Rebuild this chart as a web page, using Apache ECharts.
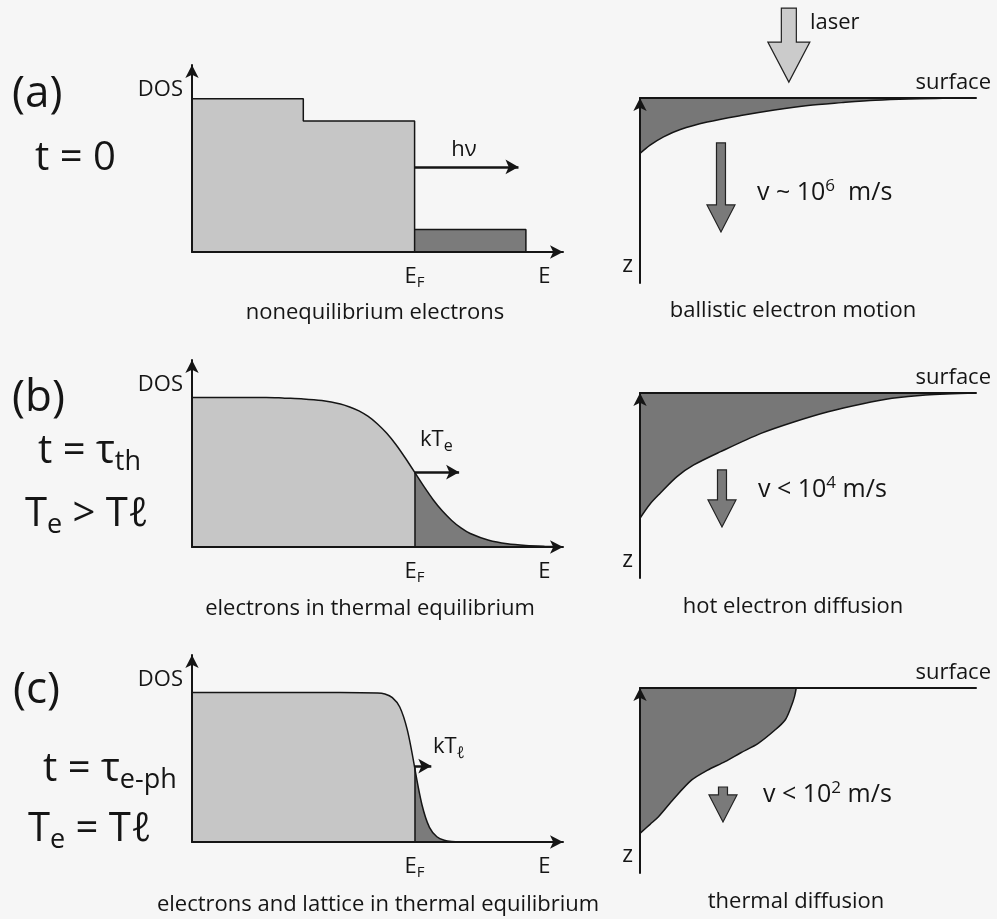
<!DOCTYPE html>
<html><head><meta charset="utf-8">
<script src="https://cdn.jsdelivr.net/npm/echarts@6/dist/echarts.min.js"></script>
<style>html,body{margin:0;padding:0;background:#f6f6f6}#c{width:997px;height:919px}</style>
</head><body><div id="c"></div>
<script>
// ---------------- data ----------------
// x-axis labels of the DOS panels
const eLabelValues = [6, 9.5];
// (a) t = 0 : nonequilibrium electrons (E, DOS)
const aOccE   = [0, 3, 3, 6, 6];
const aOccDOS = [8.2, 8.2, 7.0, 7.0, 0];
const aExcE   = [6, 9, 9];
const aExcDOS = [1.2, 1.2, 0];
const aHvArrowE   = [6, 8.8];
const aHvArrowDOS = [4.55, 4.55];
// (b) t = tau_th : hot Fermi distribution
const bOccE   = [0, 1, 2, 2.5, 3, 3.5, 4, 4.25, 4.5, 4.75, 5, 5.25, 5.5, 5.75, 6];
const bOccDOS = [8, 8, 8, 7.96, 7.92, 7.83, 7.65, 7.49, 7.28, 6.98, 6.58, 6.08, 5.47, 4.76, 4.0];
const bExcE   = [6, 6.25, 6.5, 6.75, 7, 7.25, 7.5, 8, 8.5, 9, 9.5, 10];
const bExcDOS = [4.0, 3.24, 2.53, 1.92, 1.42, 1.02, 0.72, 0.36, 0.17, 0.08, 0.04, 0.02];
const bEdgeE   = [6, 6];
const bEdgeDOS = [0, 4.0];
const bKtArrowE   = [6, 7.2];
const bKtArrowDOS = [4.0, 4.0];
// (c) t = tau_e-ph : cold Fermi distribution
const cOccE   = [0, 2, 4, 5, 5.2, 5.4, 5.6, 5.8, 6];
const cOccDOS = [8, 8, 8, 7.97, 7.91, 7.72, 7.22, 6.02, 4.0];
const cExcE   = [6, 6.2, 6.4, 6.6, 6.8, 7.0, 7.4, 10];
const cExcDOS = [4.0, 1.98, 0.78, 0.28, 0.09, 0.03, 0, 0];
const cEdgeE   = [6, 6];
const cEdgeDOS = [0, 4.0];
const cKtArrowE   = [6, 6.45];
const cKtArrowDOS = [4.06, 4.06];
// right column: excitation depth profiles (lateral x, depth z)
const aDepthX = [0, 0.3, 0.7, 1.2, 2, 3, 4, 5, 6, 7, 8, 9, 10];
const aDepthZ = [3.0, 2.55, 2.1, 1.7, 1.3, 0.95, 0.65, 0.4, 0.25, 0.12, 0.05, 0.02, 0];
const bDepthX = [0, 0.3, 0.6, 1.1, 1.6, 2.4, 3.6, 4.6, 5.6, 6.6, 7.5, 8.5, 10];
const bDepthZ = [6.77, 6.0, 5.42, 4.52, 3.89, 3.17, 2.18, 1.55, 1.01, 0.59, 0.29, 0.11, 0];
const cDepthX = [0, 0.3, 0.55, 1.0, 1.54, 2.0, 2.53, 3.0, 3.52, 4.0, 4.32, 4.5, 4.6, 4.65];
const cDepthZ = [7.86, 7.37, 6.96, 6.0, 4.97, 4.45, 3.98, 3.5, 2.99, 2.3, 1.73, 1.0, 0.45, 0];
// block arrows: [x, z of tail, z of tip]
const laserArrow = [4.43, -4.86, -0.86];
const flowArrowA = [2.41, 2.43, 7.24];
const flowArrowB = [2.44, 4.16, 7.24];
const flowArrowC = [2.47, 5.35, 7.24];

// ---------------- styles ----------------
const LIGHT = '#c6c6c6', DARK = '#7b7b7b', INK = '#151515';
const FONT = '"Open Sans", "Noto Sans", "DejaVu Sans", sans-serif';
const zip = (xs, ys) => xs.map((x, i) => [x, ys[i]]);

const chart = echarts.init(document.getElementById('c'), null, {renderer: 'canvas'});

const leftTops = [65, 360, 655], rightTops = [98, 393, 688];
const grids = [];
leftTops.forEach(t => grids.push({left: 192, top: t, width: 371, height: 187, outerBoundsMode: 'none', containLabel: false}));
rightTops.forEach(t => grids.push({left: 640, top: t, width: 336, height: 185, outerBoundsMode: 'none', containLabel: false}));

const axisLineBase = {show: true, onZero: false, lineStyle: {color: INK, width: 2}};
const eRich = {
  m: {fontSize: 22, fontFamily: FONT, color: INK, lineHeight: 26, verticalAlign: 'middle'},
  s: {fontSize: 15, fontFamily: FONT, color: INK, lineHeight: 15, verticalAlign: 'bottom'}
};
const xAxes = [], yAxes = [];
for (let i = 0; i < 3; i++) {
  xAxes.push({gridIndex: i, type: 'value', min: 0, max: 10, z: 5,
    axisLine: Object.assign({}, axisLineBase, {symbol: ['none', 'arrow'], symbolSize: [10, 13]}),
    axisTick: {show: false}, splitLine: {show: false},
    axisLabel: {show: true, customValues: eLabelValues, margin: 12, hideOverlap: false,
      formatter: v => v === 6 ? '{m|E}{s|F}' : '{m|E}', rich: eRich}});
  yAxes.push({gridIndex: i, type: 'value', min: 0, max: 10, z: 5,
    axisLine: Object.assign({}, axisLineBase, {symbol: ['none', 'arrow'], symbolSize: [10, 13]}),
    axisTick: {show: false}, splitLine: {show: false}, axisLabel: {show: false},
    name: 'DOS', nameLocation: 'end', nameGap: -25,
    nameTextStyle: {fontSize: 22, fontFamily: FONT, color: INK, align: 'right', verticalAlign: 'middle', padding: [0, 9, 0, 0]}});
}
for (let i = 0; i < 3; i++) {
  xAxes.push({gridIndex: 3 + i, type: 'value', min: 0, max: 10, position: 'top', z: 5,
    axisLine: Object.assign({}, axisLineBase),
    axisTick: {show: false}, splitLine: {show: false}, axisLabel: {show: false},
    name: 'surface', nameLocation: 'end', nameGap: 15,
    nameTextStyle: {fontSize: 22, fontFamily: FONT, color: INK, align: 'right', verticalAlign: 'bottom', padding: [0, 0, 4, 0]}});
  yAxes.push({gridIndex: 3 + i, type: 'value', min: 0, max: 10, inverse: true, z: 5,
    axisLine: Object.assign({}, axisLineBase, {symbol: ['none', 'arrow'], symbolSize: [10, 13]}),
    axisTick: {show: false}, splitLine: {show: false}, axisLabel: {show: false},
    name: 'z', nameLocation: 'end', nameGap: -18,
    nameTextStyle: {fontSize: 23, fontFamily: FONT, color: INK, align: 'right', verticalAlign: 'middle', padding: [0, 7, 0, 0]}});
}

function area(idx, xs, ys, color, smooth) {
  return {type: 'line', xAxisIndex: idx, yAxisIndex: idx, data: zip(xs, ys), symbol: 'none', z: 2,
    smooth: smooth ? 0.3 : false,
    lineStyle: {color: INK, width: 1.5}, areaStyle: {color: color, opacity: 1}, silent: true};
}
function arrowLine(idx, xs, ys, edgeXs, edgeYs) {
  const data = [[{coord: [xs[0], ys[0]], symbol: 'none'}, {coord: [xs[1], ys[1]], symbol: 'arrow', symbolSize: [11, 13]}]];
  if (edgeXs) data.push([{coord: [edgeXs[0], edgeYs[0]], symbol: 'none', lineStyle: {width: 1.5}}, {coord: [edgeXs[1], edgeYs[1]], symbol: 'none'}]);
  return {type: 'line', xAxisIndex: idx, yAxisIndex: idx, data: [], symbol: 'none', z: 4,
    markLine: {silent: true, animation: false, symbol: ['none', 'arrow'], label: {show: false},
      lineStyle: {color: INK, width: 2.5, type: 'solid'}, emphasis: {disabled: true}, data: data}};
}
function blockArrows(idx, items, headLen, headHalf, shaftHalf, fill) {
  return {type: 'custom', xAxisIndex: idx, yAxisIndex: idx, clip: false, z: 4, silent: true,
    data: items, encode: {x: 0, y: [1, 2]},
    renderItem: (params, api) => {
      const tail = api.coord([api.value(0), api.value(1)]);
      const tip = api.coord([api.value(0), api.value(2)]);
      const x = tail[0], yt = tail[1], yb = tip[1], yh = yb - headLen;
      return {type: 'polygon', shape: {points: [[x - shaftHalf, yt], [x + shaftHalf, yt], [x + shaftHalf, yh],
        [x + headHalf, yh], [x, yb], [x - headHalf, yh], [x - shaftHalf, yh]]},
        style: {fill: fill, stroke: '#222', lineWidth: 1.2}};
    }};
}

const series = [
  area(0, aOccE, aOccDOS, LIGHT, false),
  area(0, aExcE, aExcDOS, DARK, false),
  arrowLine(0, aHvArrowE, aHvArrowDOS),
  area(1, bOccE, bOccDOS, LIGHT, true),
  area(1, bExcE, bExcDOS, DARK, true),
  arrowLine(1, bKtArrowE, bKtArrowDOS, bEdgeE, bEdgeDOS),
  area(2, cOccE, cOccDOS, LIGHT, true),
  area(2, cExcE, cExcDOS, DARK, true),
  arrowLine(2, cKtArrowE, cKtArrowDOS, cEdgeE, cEdgeDOS),
  area(3, aDepthX, aDepthZ, '#777777', true),
  area(4, bDepthX, bDepthZ, '#777777', true),
  area(5, cDepthX, cDepthZ, '#777777', true),
  blockArrows(3, [laserArrow], 40, 21, 7.5, '#cbcbcb'),
  blockArrows(3, [flowArrowA], 27, 14, 4.5, '#7a7a7a'),
  blockArrows(4, [flowArrowB], 27, 14, 4.5, '#7a7a7a'),
  blockArrows(5, [flowArrowC], 27, 14, 4.5, '#7a7a7a')
];

// ---------------- text annotations ----------------
function tok(size, lh, va) { return {fontSize: size, lineHeight: lh, verticalAlign: va, fontFamily: FONT, fill: INK, color: INK}; }
const bigRich = {m: tok(40, 48, 'middle'), s: tok(27, 27, 'bottom')};
const smRich = {m: tok(22, 28, 'middle'), s: tok(16, 16, 'bottom')};
const vRich = {m: tok(25, 30, 'middle'), p: tok(17, 17, 'top')};
function txt(x, y, text, size, align, rich) {
  return {type: 'text', x: x, y: y, silent: true, z: 10,
    style: {text: text, fill: INK, font: size + 'px ' + FONT, align: align || 'left', textAlign: align || 'left',
      verticalAlign: 'middle', textVerticalAlign: 'middle', rich: rich}};
}
const graphic = [
  txt(12, 94, '(a)', 44), txt(35, 159, 't = 0', 40),
  txt(12, 398, '(b)', 44), txt(38, 452, '{m|t = τ}{s|th}', 40, 'left', bigRich), txt(25, 515, '{m|T}{s|e}{m| > Tℓ}', 40, 'left', bigRich),
  txt(13, 690, '(c)', 44), txt(43, 770, '{m|t = τ}{s|e-ph}', 40, 'left', bigRich), txt(28, 830, '{m|T}{s|e}{m| = Tℓ}', 40, 'left', bigRich),
  txt(464, 150, 'hν', 22, 'center'),
  txt(420, 440, '{m|kT}{s|e}', 22, 'left', smRich),
  txt(433, 747, '{m|kT}{s|ℓ}', 22, 'left', smRich),
  txt(375, 313, 'nonequilibrium electrons', 22, 'center'),
  txt(370, 609, 'electrons in thermal equilibrium', 22, 'center'),
  txt(378, 905, 'electrons and lattice in thermal equilibrium', 22, 'center'),
  txt(793, 311, 'ballistic electron motion', 22, 'center'),
  txt(793, 607, 'hot electron diffusion', 22, 'center'),
  txt(796, 902, 'thermal diffusion', 22, 'center'),
  txt(810, 23, 'laser', 22),
  txt(757, 193, '{m|v ~ 10}{p|6}{m|  m/s}', 25, 'left', vRich),
  txt(758, 490, '{m|v < 10}{p|4}{m| m/s}', 25, 'left', vRich),
  txt(763, 795, '{m|v < 10}{p|2}{m| m/s}', 25, 'left', vRich)
];

chart.setOption({
  backgroundColor: '#f6f6f6',
  animation: false,
  textStyle: {fontFamily: FONT},
  grid: grids, xAxis: xAxes, yAxis: yAxes, series: series, graphic: graphic
});
</script></body></html>
